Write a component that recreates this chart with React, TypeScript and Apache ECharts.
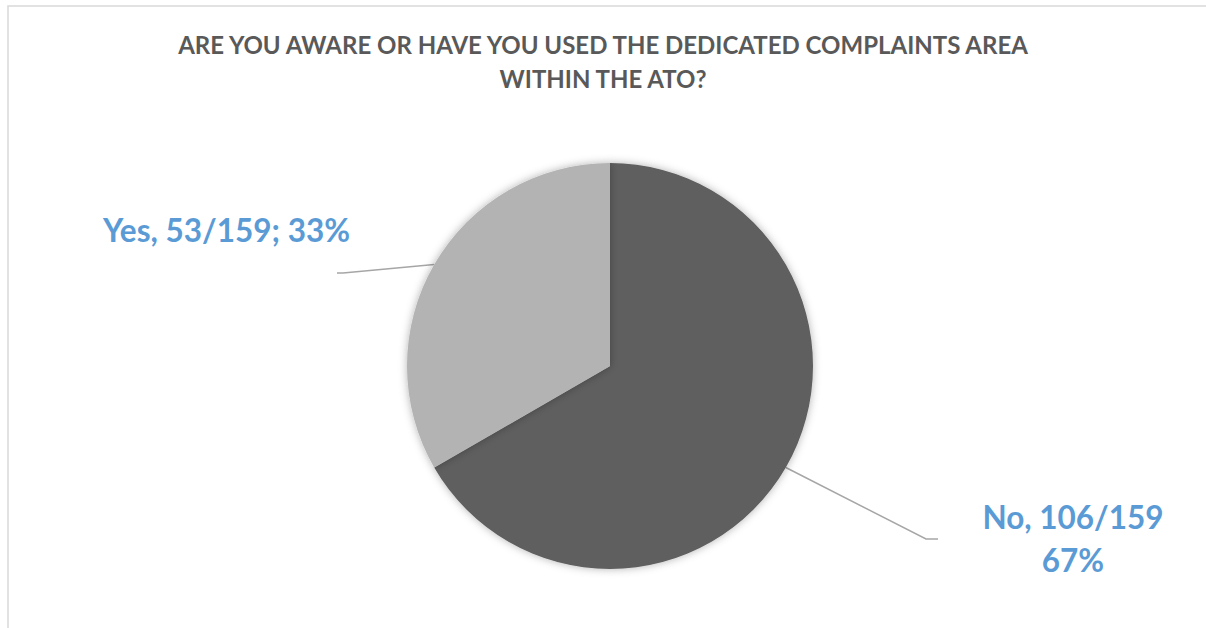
import React, { useEffect, useRef } from "react";
import * as echarts from "echarts";

const titleLines = [
  "ARE YOU AWARE OR HAVE YOU USED THE DEDICATED COMPLAINTS AREA",
  "WITHIN THE ATO?",
];
const categories = ["No", "Yes"];
const counts = [106, 53];
const sliceColors = ["#5e5e5e", "#b3b3b3"];
const labelSeparators = ["\n", "; "];

export default function App() {
  const ref = useRef<HTMLDivElement>(null);
  useEffect(() => {
    if (!ref.current) return;
    const chart = echarts.init(ref.current, null, { renderer: "svg" });
    const total = counts.reduce((a, b) => a + b, 0);
    const data = categories.map((name, i) => ({
      name,
      value: counts[i],
      itemStyle: { color: sliceColors[i] },
    }));
    // label anchor + leader-line elbow positions (layout only)
    const labelPos = [
      { x: 1073, y: 538, align: "center", elbow: [926, 539], end: [938, 539] },
      { x: 103, y: 230, align: "left", elbow: [343, 273], end: [337, 273] },
    ];
    const font = "Lato, 'Open Sans', sans-serif";
    chart.setOption({
      animation: false,
      backgroundColor: "#ffffff",
      title: {
        text: titleLines.join("\n"),
        left: "center",
        top: 22,
        textStyle: {
          fontFamily: font,
          fontSize: 24,
          fontWeight: "bold",
          color: "#595959",
          lineHeight: 34,
          align: "center",
        },
      },
      graphic: [
        {
          type: "rect",
          shape: { x: 8, y: 6, width: 1220, height: 650 },
          style: { fill: "none", stroke: "#d9d9d9", lineWidth: 1.5 },
          silent: true,
        },
      ],
      series: [
        {
          type: "pie",
          center: [610, 366],
          radius: [0, 203],
          startAngle: 90,
          clockwise: true,
          avoidLabelOverlap: false,
          data,
          itemStyle: {
            shadowBlur: 8,
            shadowColor: "rgba(0,0,0,0.3)",
          },
          label: {
            show: true,
            position: "outside",
            fontFamily: font,
            fontSize: 31.5,
            fontWeight: "bold",
            color: "#5b9bd5",
            lineHeight: 43,
            align: "center",
            formatter: (p: any) => {
              const pct = Math.round((p.value / total) * 100);
              return `${p.name}, ${p.value}/${total}${labelSeparators[p.dataIndex]}${pct}%`;
            },
          },
          labelLine: {
            show: true,
            length: 20,
            length2: 10,
            lineStyle: { color: "#a6a6a6", width: 1.5 },
          },
          labelLayout: (params: any) => {
            const lp = labelPos[params.dataIndex];
            const start = params.labelLinePoints ? params.labelLinePoints[0] : null;
            const out: any = {
              x: lp.x,
              y: lp.y,
              align: lp.align,
              verticalAlign: "middle",
            };
            if (start) out.labelLinePoints = [start, lp.elbow, lp.end];
            return out;
          },
        },
      ],
    });
    return () => chart.dispose();
  }, []);
  return (
    <div
      ref={ref}
      style={{ position: "fixed", left: 0, top: 0, width: 1206, height: 628 }}
    />
  );
}
